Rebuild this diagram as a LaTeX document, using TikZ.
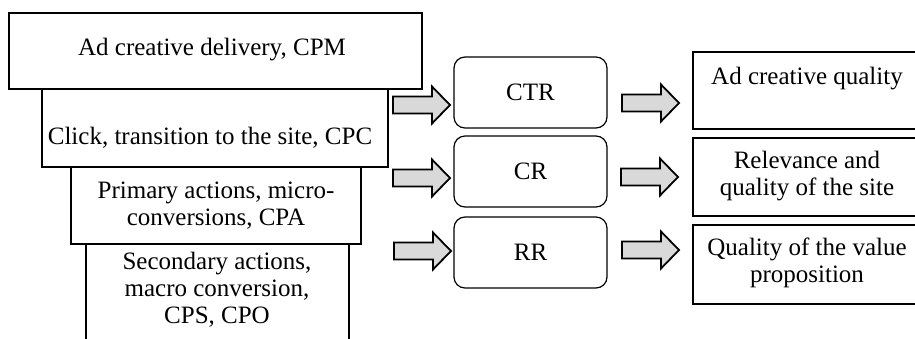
\documentclass[tikz,border=0pt]{standalone}
\usepackage{fontspec}
\setmainfont{Liberation Serif}
\tikzset{
  box/.style={draw=black, line width=1.2pt, fill=white},
  rbox/.style={draw=black, line width=1.2pt, rounded corners=11pt},
  txt/.style={align=center, inner sep=0pt, font=\fontsize{25}{27}\selectfont},
  barrow/.style={draw=black, line width=1.8pt, fill=black!15, line join=miter},
  pics/blockarrow/.style={code={
    \draw[barrow] (0,-8.5) -- (39,-8.5) -- (39,-18.5) -- (57,0) -- (39,18.5) -- (39,8.5) -- (0,8.5) -- cycle;
  }}
}
\begin{document}
\begin{tikzpicture}[x=1pt, y=-1pt]
\useasboundingbox (0,0) rectangle (915,338);
\clip (0,0) rectangle (915,338);
% left stacked boxes
\draw[box] (9,13) rectangle (422,89);
\draw[box] (42,89) rectangle (388,167);
\draw[box] (71,167) rectangle (361,244);
\draw[box] (86,244) rectangle (349,360);
\node[txt] (t1) at (212,50) {Ad creative delivery, CPM};
\node[txt] (t2) at (210,138) {Click, transition to the site, CPC};
\node[txt] (t3) at (216,206) {Primary actions, micro-\\conversions, CPA};
\node[txt] (t4) at (217,290) {Secondary actions,\\macro conversion,\\CPS, CPO};
% middle rounded boxes
\node[rbox, minimum width=153pt, minimum height=71pt, txt] (ctr) at (530.5,92.5) {CTR};
\node[rbox, minimum width=153pt, minimum height=71pt, txt] (cr) at (530.5,171.5) {CR};
\node[rbox, minimum width=153pt, minimum height=71pt, txt] (rr) at (530.5,252.5) {RR};
% right boxes
\draw[box] (693,52) rectangle (925,129);
\draw[box] (693,138) rectangle (925,216);
\draw[box] (693,225) rectangle (925,304);
\node[txt] (q1) at (807,79) {Ad creative quality};
\node[txt] (q2) at (807,176) {Relevance and\\quality of the site};
\node[txt] (q3) at (807,263) {Quality of the value\\proposition};
% block arrows
\pic at (393,105) {blockarrow};
\pic at (393,178) {blockarrow};
\pic at (394,251) {blockarrow};
\pic at (622,103) {blockarrow};
\pic at (621,177) {blockarrow};
\pic at (622,250) {blockarrow};
\end{tikzpicture}
\end{document}
